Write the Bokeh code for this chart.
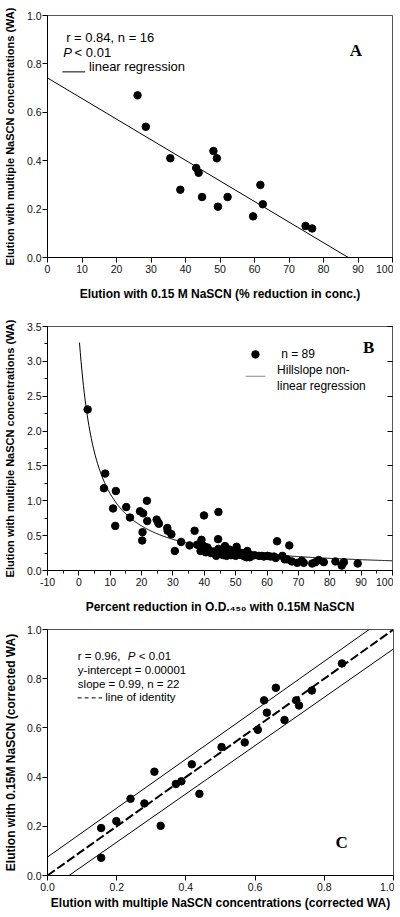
import numpy as np
from bokeh.plotting import figure
from bokeh.layouts import column
from bokeh.models import (SingleIntervalTicker, PrintfTickFormatter, Label,
                          LinearAxis, Range1d, CustomJSTickFormatter)
from bokeh.embed import file_html
from bokeh.resources import INLINE

FONT = "Liberation Sans"
SERIF = "Liberation Serif"

# ---------------- Panel A data ----------------
a_x = [26.1, 28.5, 35.6, 38.5, 43.1, 43.8, 44.8, 48.1, 49.1, 49.4, 52.2, 59.6, 61.7, 62.4, 74.8, 76.7]
a_y = [0.67, 0.54, 0.41, 0.28, 0.37, 0.35, 0.25, 0.44, 0.41, 0.21, 0.25, 0.17, 0.30, 0.22, 0.13, 0.12]
a_intercept = 0.742
a_slope = -0.00851

# ---------------- Panel B data ----------------
b_x = [2.8, 8.4, 8.0, 11.8, 10.9, 11.6, 15.1, 16.3, 19.5, 20.5, 21.7, 20.3, 20.2, 21.8, 24.8, 25.3,
       25.5, 28.2, 28.3, 29.5, 30.6, 32.6, 35.3, 36.9, 37.7, 39.1, 39.9, 38.8, 40.1, 40.7, 42.1, 43.8,
       44.4, 44.5, 44.5, 45.8, 46.6, 47.1, 48.0, 48.9, 50.3, 51.1, 51.9, 53.2, 52.9, 53.7, 54.4, 55.1,
       57.4, 58.4, 60.1, 61.1, 62.2, 62.8, 63.2, 64.9, 65.6, 66.4, 67.1, 67.9, 69.6, 71.1, 71.7, 74.4,
       75.5, 76.5, 78.1, 81.8, 83.8, 84.5, 88.9, 40.5, 41.5, 43.0, 45.0, 46.0, 47.5, 48.5, 49.5, 50.0,
       52.0, 53.5, 54.5, 39.5, 41.0, 47.0, 50.8, 56.0, 59.0]
b_y = [2.31, 1.39, 1.18, 1.14, 0.89, 0.64, 0.91, 0.76, 0.85, 0.82, 1.00, 0.55, 0.43, 0.71, 0.73, 0.69,
       0.67, 0.61, 0.57, 0.52, 0.28, 0.41, 0.36, 0.57, 0.37, 0.44, 0.79, 0.28, 0.34, 0.31, 0.25, 0.21,
       0.45, 0.84, 0.31, 0.27, 0.35, 0.21, 0.30, 0.24, 0.34, 0.23, 0.22, 0.24, 0.20, 0.28, 0.23, 0.21,
       0.21, 0.21, 0.21, 0.20, 0.20, 0.18, 0.42, 0.21, 0.16, 0.16, 0.36, 0.13, 0.11, 0.14, 0.11, 0.10,
       0.12, 0.15, 0.12, 0.13, 0.07, 0.12, 0.10, 0.26, 0.29, 0.27, 0.24, 0.22, 0.26, 0.22, 0.27, 0.21,
       0.25, 0.19, 0.19, 0.36, 0.33, 0.29, 0.27, 0.22, 0.20]
# Hill-slope fit parameters: y = top / (1 + (x / half)^hill)
b_top = 3.38
b_half = 5.0
b_hill = 1.05
b_curve_start = 0.2
b_curve_end = 100.0

# ---------------- Panel C data ----------------
c_x = [0.155, 0.155, 0.199, 0.240, 0.280, 0.309, 0.327, 0.371, 0.387, 0.417, 0.439,
       0.503, 0.570, 0.608, 0.626, 0.634, 0.660, 0.685, 0.719, 0.727, 0.764, 0.851]
c_y = [0.193, 0.072, 0.221, 0.312, 0.293, 0.422, 0.202, 0.372, 0.383, 0.452, 0.332,
       0.522, 0.541, 0.592, 0.712, 0.662, 0.763, 0.632, 0.712, 0.691, 0.752, 0.862]
c_upper = (0.075, 0.995)   # intercept, slope
c_lower = (-0.061, 0.982)


def style(p, xint, yint, xminor, yminor, xfmt, yfmt, ylab_size="11px", ylab_standoff=8):
    p.grid.visible = False
    p.outline_line_color = "#555555"
    p.outline_line_width = 1
    p.background_fill_color = "white"
    p.border_fill_color = "white"
    for ax, interval, nminor, fmt in ((p.xaxis[0], xint, xminor, xfmt),
                                      (p.yaxis[0], yint, yminor, yfmt)):
        ax.ticker = SingleIntervalTicker(interval=interval, num_minor_ticks=nminor)
        ax.formatter = PrintfTickFormatter(format=fmt)
        ax.major_tick_out = 5
        ax.major_tick_in = 0
        ax.minor_tick_out = 3
        ax.minor_tick_in = 0
        ax.major_tick_line_color = "black"
        ax.minor_tick_line_color = "black"
        ax.axis_line_color = "black"
        ax.major_label_text_font = FONT
        ax.major_label_text_font_size = "10.5px"
        ax.major_label_text_color = "#111111"
        ax.axis_label_text_font = FONT
        ax.axis_label_text_font_style = "bold"
        ax.axis_label_text_color = "black"
    p.xaxis[0].axis_label_text_font_size = "12px"
    p.xaxis[0].major_label_standoff = 2
    p.xaxis[0].axis_label_standoff = 11
    p.yaxis[0].axis_label_text_font_size = ylab_size
    p.yaxis[0].major_label_standoff = 1
    p.yaxis[0].major_tick_out = 5
    p.yaxis[0].axis_label_standoff = ylab_standoff


def label(p, x, y, text, size="13px", style_="normal", font=FONT, align="left"):
    p.add_layout(Label(x=x, y=y, text=text, text_font=font, text_font_size=size,
                       text_font_style=style_, text_baseline="middle", text_align=align,
                       text_color="black"))


# ---------------- Panel A ----------------
pA = figure(width=393, height=303, output_backend="svg", toolbar_location=None,
            x_range=Range1d(0, 100), y_range=Range1d(0, 1.0),
            min_border_left=42, min_border_right=1, min_border_top=15, min_border_bottom=43)
style(pA, 10, 0.2, 0, 0, "%d", "%.1f")
pA.xaxis[0].axis_label = "Elution with 0.15 M NaSCN (% reduction in conc.)"
pA.yaxis[0].axis_label = "Elution with multiple NaSCN concentrations (WA)"
a_x_end = -a_intercept / a_slope
pA.line([0, a_x_end], [a_intercept, a_intercept + a_slope * a_x_end], line_color="black", line_width=1)
pA.scatter(a_x, a_y, size=7.5, color="black", marker="circle")
label(pA, 5.4, 0.910, "r = 0.84, n = 16")
label(pA, 4.6, 0.849, "P", style_="italic")
label(pA, 7.86, 0.849, "< 0.01")
pA.line([4.3, 10.9], [0.767, 0.767], line_color="black", line_width=1)
label(pA, 12.0, 0.788, "linear regression")
label(pA, 89.4, 0.857, "A", size="17px", style_="bold", font=SERIF, align="center")

# ---------------- Panel B ----------------
pB = figure(width=393, height=313, output_backend="svg", toolbar_location=None,
            x_range=Range1d(-10, 100), y_range=Range1d(0, 3.5),
            min_border_left=42, min_border_right=1, min_border_top=23, min_border_bottom=45)
style(pB, 10, 0.5, 2, 2, "%d", "%.1f")
pB.xaxis[0].axis_label = "Percent reduction in O.D.\u2084\u2085\u2080 with 0.15M NaSCN"
pB.yaxis[0].axis_label = "Elution with multiple NaSCN concentrations (WA)"
rax = LinearAxis(ticker=SingleIntervalTicker(interval=0.5, num_minor_ticks=0),
                 formatter=CustomJSTickFormatter(code="return ''"),
                 major_label_standoff=0,
                 major_tick_in=5, major_tick_out=0, axis_line_color="#555555",
                 major_tick_line_color="black")
pB.add_layout(rax, "right")
bx = np.linspace(b_curve_start, b_curve_end, 400)
by = b_top / (1.0 + (bx / b_half) ** b_hill)
pB.line(bx, by, line_color="black", line_width=1)
pB.scatter(b_x, b_y, size=7.5, color="black", marker="circle")
pB.scatter([56.3], [3.10], size=7.5, color="black", marker="circle")
label(pB, 64.5, 3.10, "n = 89", size="12px")
pB.line([53.2, 59.5], [2.786, 2.786], line_color="#888888", line_width=1)
label(pB, 63.2, 2.87, "Hillslope non-", size="12px")
label(pB, 63.2, 2.64, "linear regression", size="12px")
label(pB, 92.4, 3.20, "B", size="17px", style_="bold", font=SERIF, align="center")

# ---------------- Panel C ----------------
pC = figure(width=394, height=299, output_backend="svg", toolbar_location=None,
            x_range=Range1d(0, 1.0), y_range=Range1d(0, 1.0),
            min_border_left=43, min_border_right=1, min_border_top=13, min_border_bottom=40)
style(pC, 0.2, 0.2, 0, 0, "%.1f", "%.1f", ylab_size="12px", ylab_standoff=6)
pC.xaxis[0].axis_label = "Elution with multiple NaSCN concentrations (corrected WA)"
pC.xaxis[0].axis_label_standoff = 2
pC.yaxis[0].axis_label = "Elution with 0.15M NaSCN (corrected WA)"
for (b0, b1) in (c_upper, c_lower):
    pC.line([0, 1], [b0, b0 + b1], line_color="black", line_width=1)
pC.line([0, 1], [0, 1], line_color="black", line_width=2, line_dash="9 3")
pC.scatter(c_x, c_y, size=7.5, color="black", marker="circle")
label(pC, 0.0877, 0.894, "r = 0.96,", size="11.5px")
label(pC, 0.232, 0.894, "P", size="11.5px", style_="italic")
label(pC, 0.264, 0.894, "< 0.01", size="11.5px")
label(pC, 0.0877, 0.837, "y-intercept = 0.00001", size="11.5px")
label(pC, 0.0877, 0.780, "slope = 0.99, n = 22", size="11.5px")
pC.line([0.087, 0.158], [0.722, 0.722], line_color="black", line_width=1, line_dash="4 3")
label(pC, 0.167, 0.726, "line of identity", size="11.5px")
label(pC, 0.85, 0.134, "C", size="17px", style_="bold", font=SERIF, align="center")

layout = column(pA, pB, pC, spacing=0)
open("out.html", "w").write(file_html(layout, INLINE))
